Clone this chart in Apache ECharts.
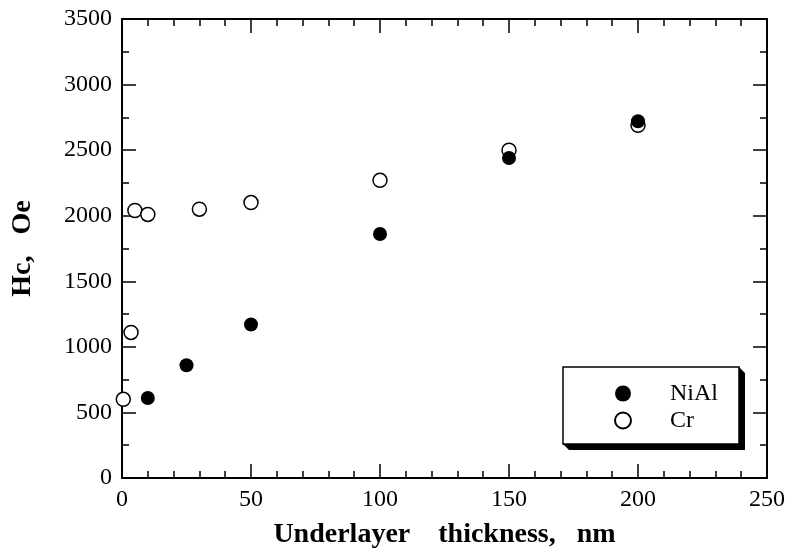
<!DOCTYPE html>
<html>
<head>
<meta charset="utf-8">
<script src="https://cdn.jsdelivr.net/npm/echarts@6/dist/echarts.min.js"></script>
<style>
  html, body { margin: 0; padding: 0; background: #fff; }
  #main { width: 787px; height: 555px; }
</style>
</head>
<body>
<div id="main"></div>
<script>
const serif = '"Liberation Serif", "Times New Roman", serif';

// data
const thicknessNiAl = [10, 25, 50, 100, 150, 200];
const hcNiAl = [610, 860, 1170, 1860, 2440, 2720];
const thicknessCr = [0.5, 3.5, 5, 10, 30, 50, 100, 150, 200];
const hcCr = [600, 1110, 2040, 2010, 2050, 2100, 2270, 2500, 2690];

const xTicks = [0, 50, 100, 150, 200, 250];
const yTicks = [0, 500, 1000, 1500, 2000, 2500, 3000, 3500];

function pairs(xs, ys) {
  return xs.map((x, i) => [x, ys[i]]);
}

const chart = echarts.init(document.getElementById('main'));

const lineStyle = { color: '#000', width: 2 };
const tickStyle = { color: '#000', width: 1.5 };

function xAxisBase(extra) {
  return Object.assign({
    type: 'value',
    min: xTicks[0],
    max: xTicks[xTicks.length - 1],
    interval: 50,
    axisLine: { show: true, onZero: false, lineStyle },
    axisTick: { show: true, inside: true, length: 14, lineStyle: tickStyle },
    minorTick: { show: true, splitNumber: 5, length: 7, lineStyle: tickStyle },
    splitLine: { show: false },
    minorSplitLine: { show: false }
  }, extra);
}

function yAxisBase(extra) {
  return Object.assign({
    type: 'value',
    min: yTicks[0],
    max: yTicks[yTicks.length - 1],
    interval: 500,
    axisLine: { show: true, onZero: false, lineStyle },
    axisTick: { show: true, inside: true, length: 14, lineStyle: tickStyle },
    minorTick: { show: true, splitNumber: 2, length: 7, lineStyle: tickStyle },
    splitLine: { show: false },
    minorSplitLine: { show: false }
  }, extra);
}

// legend frame with the dark drop shadow on right and bottom
const box = { x: 563, y: 367, w: 176, h: 77, d: 6 };

const option = {
  animation: false,
  backgroundColor: '#fff',
  grid: {
    left: 122, right: 20, top: 19, bottom: 77,
    containLabel: false,
    outerBoundsMode: 'none'
  },
  graphic: [
    {
      type: 'polygon',
      z: 10,
      shape: {
        points: [
          [box.x, box.y + box.h], [box.x + box.d, box.y + box.h + box.d],
          [box.x + box.w + box.d, box.y + box.h + box.d], [box.x + box.w + box.d, box.y + box.d],
          [box.x + box.w, box.y], [box.x + box.w, box.y + box.h]
        ]
      },
      style: { fill: '#000' }
    },
    {
      type: 'rect',
      z: 11,
      shape: { x: box.x, y: box.y, width: box.w, height: box.h },
      style: { fill: '#fff', stroke: '#000', lineWidth: 1.5 }
    }
  ],
  xAxis: [
    xAxisBase({
      position: 'bottom',
      name: 'Underlayer    thickness,   nm',
      nameLocation: 'middle',
      nameGap: 43,
      nameTextStyle: { fontFamily: serif, fontWeight: 'bold', fontSize: 28, color: '#000' },
      axisLabel: { show: true, margin: 10, fontFamily: serif, fontSize: 24, color: '#000' }
    }),
    xAxisBase({ position: 'top', axisLabel: { show: false } })
  ],
  yAxis: [
    yAxisBase({
      position: 'left',
      name: 'Hc,   Oe',
      nameLocation: 'middle',
      nameGap: 85,
      nameRotate: 90,
      nameTextStyle: { fontFamily: serif, fontWeight: 'bold', fontSize: 28, color: '#000' },
      axisLabel: {
        show: true, margin: 10, fontFamily: serif, fontSize: 24, color: '#000',
        formatter: (v) => String(v)
      }
    }),
    yAxisBase({ position: 'right', axisLabel: { show: false } })
  ],
  legend: {
    orient: 'vertical',
    left: 614,
    top: 380,
    z: 20,
    data: ['NiAl', 'Cr'],
    itemWidth: 16,
    itemHeight: 16,
    itemGap: 0,
    padding: 0,
    backgroundColor: 'transparent',
    borderWidth: 0,
    textStyle: {
      fontFamily: serif, fontSize: 24, color: '#000', lineHeight: 27,
      padding: [0, 0, 0, 34]
    }
  },
  series: [
    {
      name: 'Cr',
      type: 'scatter',
      symbol: 'circle',
      symbolSize: 14,
      data: pairs(thicknessCr, hcCr),
      itemStyle: { color: '#fff', borderColor: '#000', borderWidth: 1.5, opacity: 1 }
    },
    {
      name: 'NiAl',
      type: 'scatter',
      symbol: 'circle',
      symbolSize: 14,
      data: pairs(thicknessNiAl, hcNiAl),
      itemStyle: { color: '#000', borderColor: '#000', borderWidth: 0, opacity: 1 }
    }
  ]
};

chart.setOption(option);
</script>
</body>
</html>
